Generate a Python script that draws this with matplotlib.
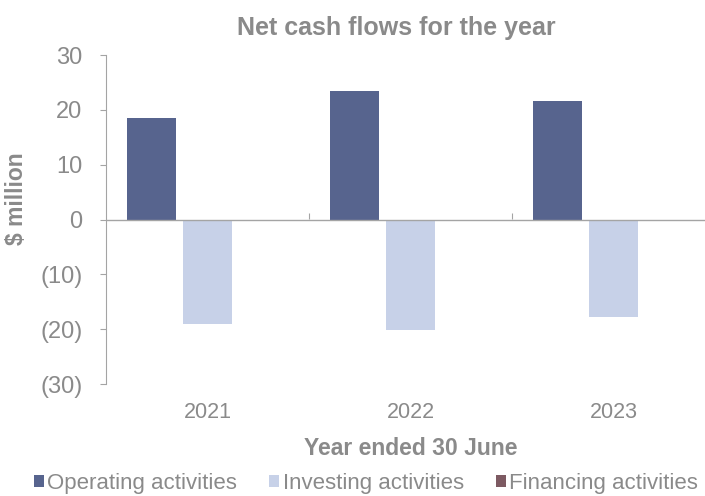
import matplotlib.pyplot as plt
import numpy as np
from matplotlib.patches import Patch

years = ["2021", "2022", "2023"]
operating = [18.5, 23.4, 21.7]
investing = [-19.1, -20.2, -17.8]
financing = [0.0, 0.0, 0.0]
series_names = ["Operating activities", "Investing activities", "Financing activities"]
series_colors = ["#57648e", "#c7d1e8", "#7d5a62"]
y_ticks = [30, 20, 10, 0, -10, -20, -30]

text_grey = "#8a8a8a"
axis_grey = "#a4a4a4"

plt.rcParams["font.family"] = ["Liberation Sans", "DejaVu Sans"]

W, H = 705, 496
fig = plt.figure(figsize=(W / 100, H / 100), dpi=100)
ax = fig.add_axes([106 / W, 1 - 384 / H, 609 / W, 329 / H])

x = np.arange(len(years))
width = 0.246
step = 0.276
for i, (vals, color) in enumerate(zip([operating, investing, financing], series_colors)):
    ax.bar(x + (i - 1) * step, vals, width, color=color, linewidth=0, zorder=2)

ax.set_xlim(-0.5, len(years) - 0.5)
ax.set_ylim(-30, 30)

# y axis with bracketed negatives
ax.set_yticks(y_ticks)
ax.set_yticklabels([f"({abs(v)})" if v < 0 else f"{v}" for v in y_ticks])
ax.tick_params(axis="y", colors=axis_grey, labelcolor=text_grey, labelsize=17,
               length=4, width=0.8, pad=13)
for side in ["top", "right", "bottom"]:
    ax.spines[side].set_visible(False)
ax.spines["left"].set_color(axis_grey)
ax.spines["left"].set_linewidth(0.8)

# category labels below the plot area
ax.set_xticks(x)
ax.set_xticklabels(years)
ax.tick_params(axis="x", length=0, labelcolor=text_grey, labelsize=15.5, pad=13)

# zero line with ticks between categories
ax.axhline(0, color=axis_grey, lw=1.0, zorder=3)
sec = ax.secondary_xaxis(0.5)
sec.set_xticks(np.arange(len(years) - 1) + 0.5)
sec.set_xticklabels([])
for sp in sec.spines.values():
    sp.set_visible(False)
sec.tick_params(axis="x", direction="out", length=4, width=0.8, colors=axis_grey)

ax.set_xlabel("Year ended 30 June", fontsize=16.5, fontweight="bold", color=text_grey, labelpad=10)
ax.set_ylabel("$ million", fontsize=16.5, fontweight="bold", color=text_grey)
ax.yaxis.set_label_coords((28 - 106) / 609, (384 - 199) / 329)

fig.text(396 / W, 1 - 28 / H, "Net cash flows for the year", ha="center", va="center",
         fontsize=18, fontweight="bold", color=text_grey)

handles = [Patch(facecolor=c, edgecolor="none") for c in series_colors]
fig.legend(handles, series_names, loc="center", bbox_to_anchor=(366 / W, 1 - 483 / H),
           ncol=3, frameon=False, fontsize=16, handlelength=0.45, handleheight=0.45,
           handletextpad=0.15, columnspacing=1.45, labelcolor=text_grey,
           borderpad=0, borderaxespad=0)

fig.savefig("out.png", dpi=100)
